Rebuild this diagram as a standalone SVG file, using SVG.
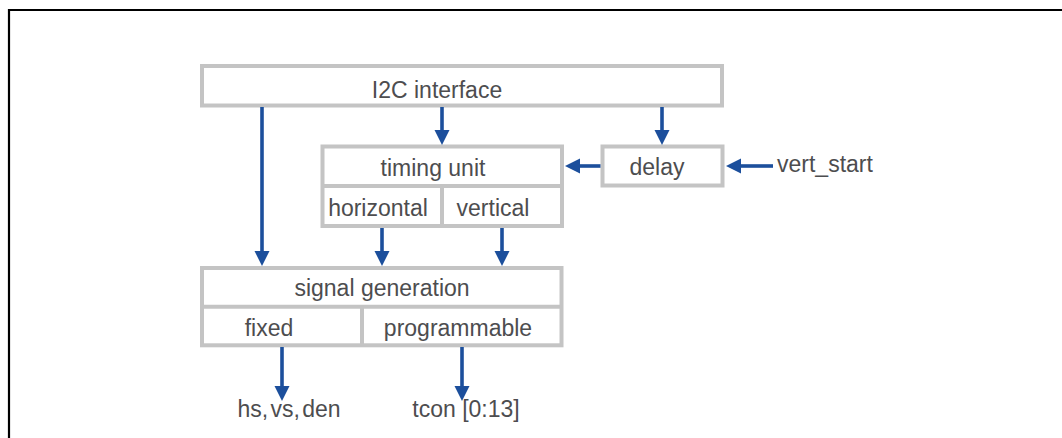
<svg xmlns="http://www.w3.org/2000/svg" width="1062" height="438" viewBox="0 0 1062 438">
<style>
.box{fill:#ffffff;stroke:#c4c4c4;stroke-width:4}
.div{fill:none;stroke:#c4c4c4;stroke-width:4}
.lbl{font-family:"Liberation Sans",Arial,sans-serif;font-size:23px;fill:#4d4d4f}
.mid{text-anchor:middle}
.con{fill:none;stroke:#1c4f9c;stroke-width:3.6;marker-end:url(#ah)}
</style>
<defs>
<marker id="ah" markerUnits="userSpaceOnUse" markerWidth="16" markerHeight="16" refX="0" refY="7.5" orient="auto" viewBox="0 0 16 15">
<path d="M0,0 L15,7.5 L0,15 Z" fill="#1c4f9c"/>
</marker>
</defs>
<rect x="0" y="0" width="1062" height="438" fill="#ffffff"/>
<path d="M9,438 V10 H1062" fill="none" stroke="#000000" stroke-width="2.2"/>

<g id="i2c">
<rect class="box" x="202" y="66" width="520" height="39.5"/>
<text class="lbl mid" x="437" y="98">I2C interface</text>
</g>

<g id="timing">
<rect class="box" x="322.5" y="146.5" width="239.5" height="79.5"/>
<line class="div" x1="322.5" y1="186" x2="562" y2="186"/>
<line class="div" x1="442" y1="186" x2="442" y2="226"/>
<text class="lbl mid" x="433" y="176">timing unit</text>
<text class="lbl mid" x="378" y="216">horizontal</text>
<text class="lbl mid" x="493" y="216">vertical</text>
</g>

<g id="delay">
<rect class="box" x="602.5" y="146.5" width="120" height="39"/>
<text class="lbl mid" x="657" y="175">delay</text>
</g>

<g id="vert_start">
<text class="lbl" x="777" y="172">vert_start</text>
</g>

<g id="siggen">
<rect class="box" x="202" y="268" width="359.5" height="77.3"/>
<line class="div" x1="202" y1="306.7" x2="561.5" y2="306.7"/>
<line class="div" x1="362" y1="306.7" x2="362" y2="345.3"/>
<text class="lbl mid" x="382" y="296">signal generation</text>
<text class="lbl mid" x="269" y="336">fixed</text>
<text class="lbl mid" x="458" y="336">programmable</text>
</g>

<g id="out_fixed">
<text class="lbl mid" x="289" y="417" word-spacing="-4">hs, vs, den</text>
</g>
<g id="out_tcon">
<text class="lbl mid" x="466" y="417">tcon [0:13]</text>
</g>

<g id="connectors">
<line class="con" x1="262" y1="107" x2="262" y2="251"/>
<line class="con" x1="442" y1="107" x2="442" y2="130"/>
<line class="con" x1="662" y1="107" x2="662" y2="130"/>
<line class="con" x1="600.5" y1="166" x2="580" y2="166"/>
<line class="con" x1="773" y1="166" x2="741" y2="166"/>
<line class="con" x1="382" y1="228" x2="382" y2="251"/>
<line class="con" x1="502" y1="228" x2="502" y2="251"/>
<line class="con" x1="282" y1="347" x2="282" y2="386"/>
<line class="con" x1="462" y1="347" x2="462" y2="386"/>
</g>
</svg>
